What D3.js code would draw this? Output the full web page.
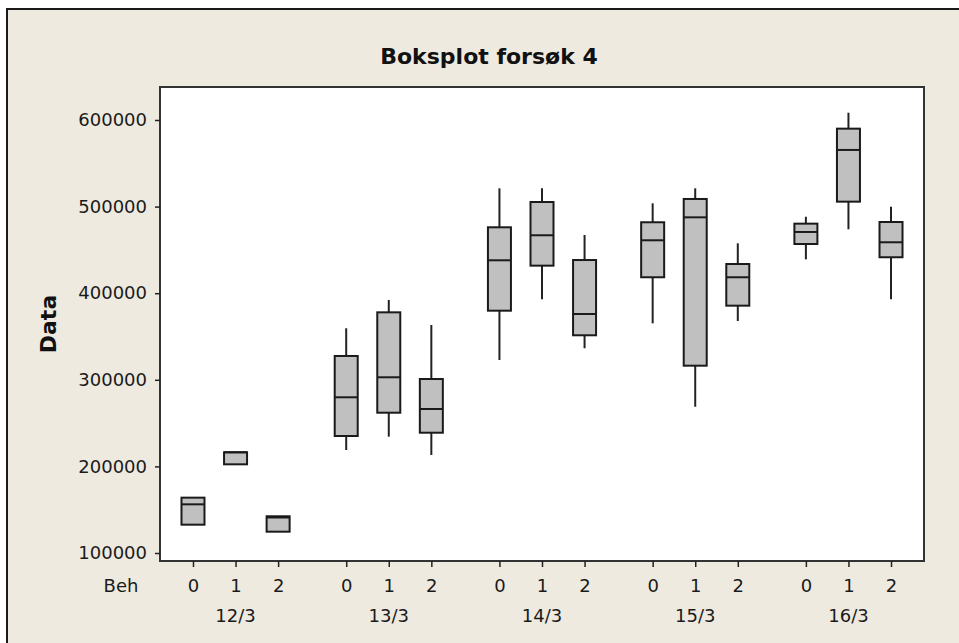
<!DOCTYPE html>
<html>
<head>
<meta charset="utf-8">
<script src="https://cdn.jsdelivr.net/npm/d3@7/dist/d3.min.js"></script>
<style>
  html, body { margin: 0; padding: 0; background: #ffffff; }
  svg { display: block; }
</style>
</head>
<body>
<script>
// ---- data ----
const dates = ["12/3", "13/3", "14/3", "15/3", "16/3"];
const behs = ["0", "1", "2"];
// ordered date by date, Beh 0,1,2 within each date
const whiskerLow  = [132700, 202400, 124600, 218900, 234300, 213200, 322900, 393000, 336400, 365200, 268900, 367900, 439100, 473800, 393000];
const q1          = [132700, 202400, 124600, 235100, 262000, 238900, 379800, 431800, 351400, 418400, 316300, 385600, 456800, 505700, 441500];
const medians     = [156200, 216300, 141000, 279800, 302900, 266300, 438000, 466900, 376000, 461100, 487600, 418400, 470700, 565400, 458800];
const q3          = [163900, 216300, 142400, 327500, 377900, 300900, 476100, 505300, 438300, 481900, 508800, 433700, 480300, 590000, 482200];
const whiskerHigh = [163900, 216300, 142400, 359500, 392200, 363300, 521100, 521100, 467200, 503800, 521100, 457600, 488300, 608400, 499900];
const yTicks = [100000, 200000, 300000, 400000, 500000, 600000];
const title = "Boksplot forsøk 4";
const yTitle = "Data";
const xTitle = "Beh";

// ---- layout ----
const W = 959, H = 643;
const plot = { left: 160, top: 87, right: 924, bottom: 561 };
const groupStride = 3.6; // slots per date group (3 boxes + gap)
const boxW = 23;
const font = "'DejaVu Sans', Verdana, sans-serif";

const svg = d3.select("body").append("svg").attr("width", W).attr("height", H);

// outer frame
svg.append("rect").attr("x", 0).attr("y", 0).attr("width", W).attr("height", H).attr("fill", "#ffffff");
svg.append("rect").attr("x", 7).attr("y", 9).attr("width", W + 20).attr("height", H + 20)
  .attr("fill", "#EEEAE0").attr("stroke", "#1a1a1a").attr("stroke-width", 2);

// plot area
svg.append("rect")
  .attr("x", plot.left).attr("y", plot.top)
  .attr("width", plot.right - plot.left).attr("height", plot.bottom - plot.top)
  .attr("fill", "#ffffff").attr("stroke", "#333333").attr("stroke-width", 2);

const items = [];
dates.forEach((d, g) => behs.forEach((b, j) => {
  const i = g * behs.length + j;
  items.push({ date: d, beh: b, g, j, pos: g * groupStride + j,
    lo: whiskerLow[i], q1: q1[i], med: medians[i], q3: q3[i], hi: whiskerHigh[i] });
}));

const lastPos = (dates.length - 1) * groupStride + (behs.length - 1);
const x = d3.scaleLinear().domain([-0.775, lastPos + 0.775]).range([plot.left, plot.right]);
const y = d3.scaleLinear().domain([90760, 638100]).range([plot.bottom, plot.top]);

// y axis
const yAxis = d3.axisLeft(y).tickValues(yTicks).tickFormat(d3.format("d")).tickSize(5).tickPadding(8);
const gy = svg.append("g").attr("transform", `translate(${plot.left},0)`).call(yAxis);
gy.select(".domain").remove();
gy.selectAll(".tick line").attr("stroke", "#222").attr("stroke-width", 1.5);
gy.selectAll(".tick text").attr("font-family", font).attr("font-size", 18).attr("fill", "#1a1a1a");

// x axis (Beh ticks)
const xAxis = d3.axisBottom(x).tickValues(items.map(d => d.pos))
  .tickFormat((d, i) => items[i].beh).tickSize(6).tickPadding(12);
const gx = svg.append("g").attr("transform", `translate(0,${plot.bottom})`).call(xAxis);
gx.select(".domain").remove();
gx.selectAll(".tick line").attr("stroke", "#222").attr("stroke-width", 1.5);
gx.selectAll(".tick text").attr("font-family", font).attr("font-size", 18).attr("fill", "#1a1a1a");

// group (date) labels
svg.append("g").selectAll("text").data(dates).join("text")
  .attr("x", (d, g) => x(g * groupStride + (behs.length - 1) / 2))
  .attr("y", 622)
  .attr("text-anchor", "middle")
  .attr("font-family", font).attr("font-size", 18).attr("fill", "#1a1a1a")
  .text(d => d);

// "Beh" label
svg.append("text").attr("x", 121).attr("y", 592).attr("text-anchor", "middle")
  .attr("font-family", font).attr("font-size", 18).attr("fill", "#1a1a1a").text(xTitle);

// title
svg.append("text").attr("x", 489).attr("y", 64).attr("text-anchor", "middle")
  .attr("font-family", font).attr("font-weight", "bold").attr("font-size", 22).attr("fill", "#111")
  .text(title);

// y title
svg.append("text").attr("transform", `translate(56,${(plot.top + plot.bottom) / 2}) rotate(-90)`)
  .attr("text-anchor", "middle")
  .attr("font-family", font).attr("font-weight", "bold").attr("font-size", 22).attr("fill", "#111")
  .text(yTitle);

// boxes
const gb = svg.append("g");
const box = gb.selectAll("g.box").data(items).join("g").attr("class", "box");
box.append("line")
  .attr("x1", d => x(d.pos)).attr("x2", d => x(d.pos))
  .attr("y1", d => y(d.hi)).attr("y2", d => y(d.q3))
  .attr("stroke", "#222").attr("stroke-width", 2);
box.append("line")
  .attr("x1", d => x(d.pos)).attr("x2", d => x(d.pos))
  .attr("y1", d => y(d.q1)).attr("y2", d => y(d.lo))
  .attr("stroke", "#222").attr("stroke-width", 2);
box.append("rect")
  .attr("x", d => x(d.pos) - boxW / 2).attr("width", boxW)
  .attr("y", d => y(d.q3)).attr("height", d => y(d.q1) - y(d.q3))
  .attr("fill", "#C0C0C0").attr("stroke", "#1a1a1a").attr("stroke-width", 2);
box.append("line")
  .attr("x1", d => x(d.pos) - boxW / 2).attr("x2", d => x(d.pos) + boxW / 2)
  .attr("y1", d => y(d.med)).attr("y2", d => y(d.med))
  .attr("stroke", "#1a1a1a").attr("stroke-width", 2);
</script>
</body>
</html>
